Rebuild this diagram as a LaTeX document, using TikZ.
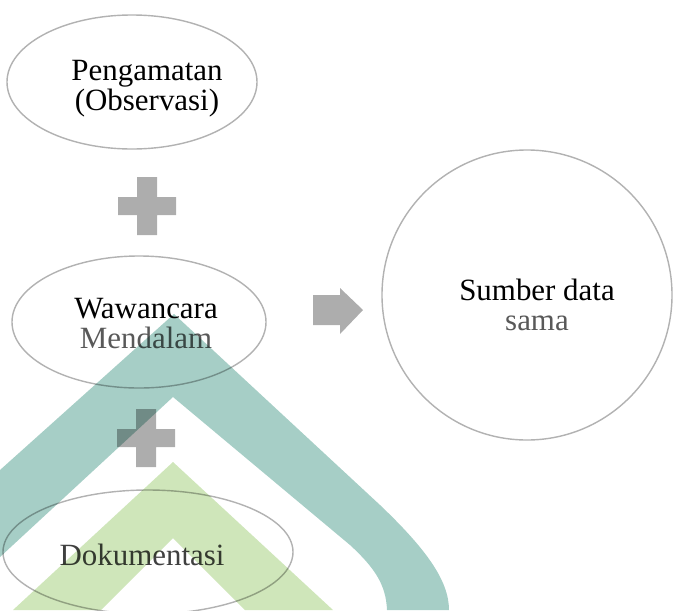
\documentclass[tikz,border=0pt]{standalone}
\usepackage{fontspec}
\setmainfont{Liberation Serif}
\usepackage{tikz}
\usetikzlibrary{shapes.geometric}
\usepackage{xcolor}
\definecolor{softgray}{HTML}{595959}
\definecolor{plusgray}{HTML}{ADADAD}
\definecolor{uinteal}{HTML}{A6CEC6}
\definecolor{uingreen}{HTML}{CFE6BA}
\tikzset{method/.style={
    ellipse, draw=black!30, line width=1.2pt, fill=white, inner sep=0pt
}}
\tikzset{methodtext/.style={
    align=center, inner sep=0pt, font=\fontsize{26.4}{25.6}\selectfont
}}
\tikzset{plusbar/.style={fill=plusgray, draw=none}}

\begin{document}
\begin{tikzpicture}[x=0.03cm, y=-0.03cm]
\useasboundingbox (0,0) rectangle (681,610);

%0
\node[method, minimum width=7.5cm, minimum height=4.02cm,
    label={[methodtext, xshift=0.45cm, yshift=-0.2cm]center:Pengamatan\\(Observasi)}] (obs) at (132,82) {};
    \coordinate (plusA) at (147,206);
    \fill[plusbar, shift={(plusA)}] (-29,-9) rectangle (29,9) (-10,-29) rectangle (10,29);

%1
\node[method, minimum width=7.62cm, minimum height=3.96cm,
    label={[methodtext, xshift=0.21cm, yshift=-0.06cm]center:Wawancara\\\textcolor{softgray}{Mendalam}}] (wwc) at (139,322) {};
    \coordinate (plusB) at (146,438);
    \fill[plusbar, shift={(plusB)}] (-29,-9) rectangle (29,9) (-10,-29) rectangle (10,29);

%2
\node[method, minimum width=8.7cm, minimum height=3.72cm,
    label={[methodtext, xshift=-0.18cm, yshift=-0.09cm]center:\textcolor{black!75}{Dokumentasi}}] (dok) at (148,552) {};

%3
\coordinate (arrow) at (313,310);
\fill[plusgray, shift={(arrow)}] (0,-15) -- (27,-15) -- (27,-22) -- (50,0) -- (27,24) -- (27,15) -- (0,15) -- cycle;
\node[method, circle, minimum size=8.7cm,
    label={[methodtext, xshift=0.3cm, yshift=-0.3cm]center:Sumber data\\\textcolor{softgray}{sama}}] (src) at (527,295) {};

%watermark
\begin{scope}[blend mode=multiply]
\fill[uinteal] (0,470) -- (174,314) -- (380,505) .. controls (425,548) and (449,580) .. (449,610)
    -- (387,610) .. controls (386,585) and (375,568) .. (350,545) -- (173,397) -- (0,557) -- cycle;
\fill[uingreen] (13,610) -- (173,462) -- (333,610) -- (245,610) -- (173,538) -- (101,610) -- cycle;
\end{scope}

\end{tikzpicture}
\end{document}
